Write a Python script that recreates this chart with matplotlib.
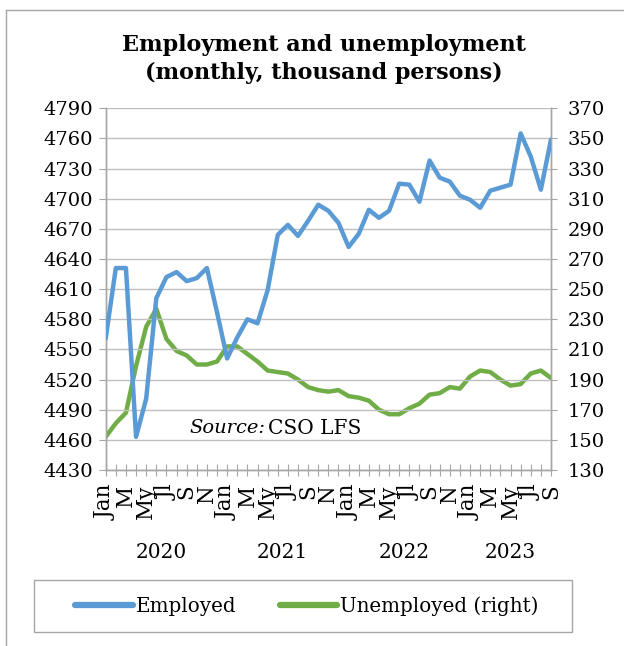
import matplotlib
matplotlib.use("Agg")
import matplotlib.pyplot as plt
from matplotlib.lines import Line2D
from matplotlib.patches import Rectangle

# monthly, Jan 2020 - Sep 2023 (thousand persons)
employed = [4561, 4631, 4631, 4463, 4501, 4601, 4622, 4627, 4618, 4621, 4631, 4587,
            4541, 4562, 4580, 4576, 4609, 4664, 4674, 4663, 4678, 4694, 4688, 4676,
            4652, 4665, 4689, 4681, 4688, 4715, 4714, 4697, 4738, 4721, 4717, 4703,
            4699, 4691, 4708, 4711, 4714, 4765, 4742, 4709, 4759]
unemployed = [152, 161, 168, 199, 225, 237, 217, 209, 206, 200, 200, 202,
              212, 212, 207, 202, 196, 195, 194, 190, 185, 183, 182, 183,
              179, 178, 176, 170, 167, 167, 171, 174, 180, 181, 185, 184,
              192, 196, 195, 190, 186, 187, 194, 196, 191]
month_labels = ["Jan", "", "M", "", "My", "", "Jl", "", "S", "", "N", ""]
years = ["2020", "2021", "2022", "2023"]

BLUE = "#5B9BD5"
GREEN = "#70AD47"
GRID = "#BFBFBF"
AXIS = "#A6A6A6"

plt.rcParams["font.family"] = ["DejaVu Serif"]
plt.rcParams["font.size"] = 14

W, H = 624, 646
fig = plt.figure(figsize=(W / 100, H / 100), dpi=100)


def fx(px):
    return px / W


def fy(py):
    return 1 - py / H


ax = fig.add_axes([fx(105.7), fy(470), fx(551) - fx(105.7), fy(108.3) - fy(470)])
ax2 = ax.twinx()

n = len(employed)
x = list(range(n))
tick_labels = (month_labels * 4)[:n]

ax.plot(x, employed, color=BLUE, lw=3.2, solid_capstyle="round", zorder=3)
ax2.plot(x, unemployed, color=GREEN, lw=3.2, solid_capstyle="round", zorder=3)

ax.set_xlim(0, n - 1)
ax.set_ylim(4430, 4790)
ax.set_yticks(range(4430, 4791, 30))
ax2.set_ylim(130, 370)
ax2.set_yticks(range(130, 371, 20))

ax.set_xticks(x)
ax.set_xticklabels(tick_labels, rotation=90, fontsize=15.5)
ax.tick_params(axis="x", direction="inout", length=9, color=AXIS, pad=6)
ax.tick_params(axis="y", direction="out", length=5, color=AXIS, pad=4)
ax2.tick_params(axis="y", direction="out", length=4, color=AXIS, pad=8)

ax.yaxis.grid(True, color=GRID, lw=1)
ax.set_axisbelow(True)
for a in (ax, ax2):
    a.spines["top"].set_visible(False)
    for s in ("left", "right", "bottom"):
        a.spines[s].set_color(AXIS)
        a.spines[s].set_linewidth(1)
ax.set_zorder(ax2.get_zorder() + 1)
ax.patch.set_visible(False)

# year labels under each group of months
for k, yr in enumerate(years):
    start = k * 12
    end = min(start + 11, n - 1)
    ax.text((start + end) / 2, -0.228, yr, transform=ax.get_xaxis_transform(),
            ha="center", va="center", fontsize=14.5)

ax.text(0.189, 0.116, "Source:", style="italic", transform=ax.transAxes,
        ha="left", va="center", fontsize=14)
ax.text(0.3645, 0.116, "CSO LFS", transform=ax.transAxes,
        ha="left", va="center", fontsize=14.5)

fig.text(fx(324), fy(59), "Employment and unemployment\n(monthly, thousand persons)",
         ha="center", va="center", fontsize=16, fontweight="bold", linespacing=1.3)

# legend box
fig.add_artist(Rectangle((fx(34), fy(632)), fx(572) - fx(34), fy(580) - fy(632),
                         transform=fig.transFigure, fill=False, ec=AXIS, lw=1))
handles = [Line2D([], [], color=BLUE, lw=4.5, solid_capstyle="round"),
           Line2D([], [], color=GREEN, lw=4.5, solid_capstyle="round")]
fig.legend(handles, ["Employed", "Unemployed (right)"], loc="center",
           bbox_to_anchor=(fx(307), fy(606)), ncol=2, frameon=False,
           handlelength=2.9, handletextpad=0.15, columnspacing=2.2, fontsize=14.3)

# outer chart frame (only top and left visible in the crop)
fig.add_artist(Line2D([fx(6), fx(6)], [fy(10), 0], transform=fig.transFigure,
                      color=AXIS, lw=1))
fig.add_artist(Line2D([fx(6), 1], [fy(10), fy(10)], transform=fig.transFigure,
                      color=AXIS, lw=1))

fig.savefig("out.png", dpi=100)
